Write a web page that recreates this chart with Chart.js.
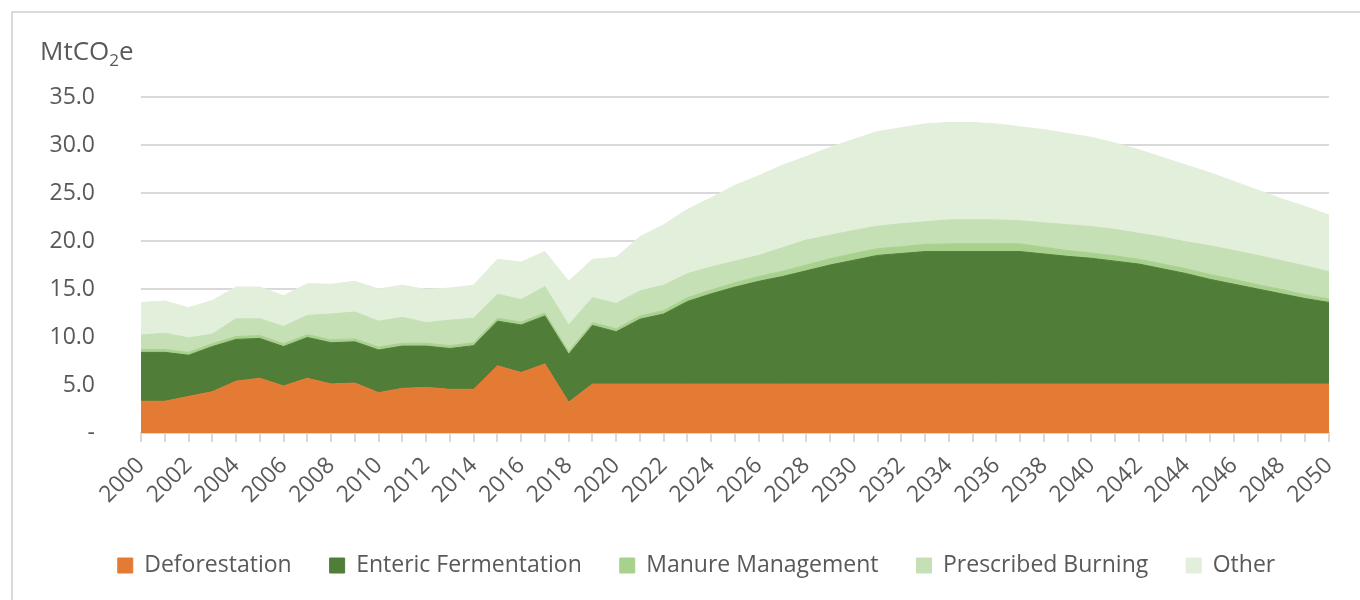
<!DOCTYPE html>
<html>
<head>
<meta charset="utf-8">
<script src="https://cdn.jsdelivr.net/npm/chart.js@4"></script>
<style>
  html, body { margin: 0; padding: 0; background: #fff; overflow: hidden; }
  #wrap { position: relative; width: 1360px; height: 600px; }
  #frame { position: absolute; left: 11px; top: 11px; width: 1400px; height: 700px; border: 2px solid #d9d9d9; }
  #emissions-chart { position: absolute; left: 0; top: 0; }
</style>
</head>
<body>
<div id="wrap">
  <div id="frame"></div>
  <canvas id="emissions-chart" width="1360" height="600"></canvas>
</div>
<script>
const years = [];
for (let y = 2000; y <= 2050; y++) years.push(String(y));

const deforestation = [3.3, 3.3, 3.8, 4.3, 5.4, 5.7, 4.9, 5.7, 5.1, 5.2,
    4.2, 4.65, 4.75, 4.55, 4.55, 7.0, 6.3, 7.2, 3.2, 5.1,
    5.1, 5.1, 5.1, 5.1, 5.1, 5.1, 5.1, 5.1, 5.1, 5.1,
    5.1, 5.1, 5.1, 5.1, 5.1, 5.1, 5.1, 5.1, 5.1, 5.1,
    5.1, 5.1, 5.1, 5.1, 5.1, 5.1, 5.1, 5.1, 5.1, 5.1, 5.1];
const entericFermentation = [5.1, 5.1, 4.3, 4.7, 4.35, 4.15, 4.1, 4.25, 4.3, 4.3,
    4.45, 4.4, 4.3, 4.25, 4.55, 4.65, 4.95, 5.0, 5.0, 6.1,
    5.45, 6.75, 7.3, 8.6, 9.4, 10.1, 10.7, 11.2, 11.8, 12.4,
    12.9, 13.4, 13.6, 13.8, 13.8, 13.8, 13.8, 13.8, 13.55, 13.3,
    13.1, 12.8, 12.5, 12.0, 11.5, 10.9, 10.4, 9.9, 9.4, 8.9, 8.5];
const manureManagement = [0.3, 0.3, 0.3, 0.3, 0.3, 0.3, 0.3, 0.3, 0.3, 0.3,
    0.3, 0.3, 0.3, 0.3, 0.3, 0.3, 0.3, 0.3, 0.3, 0.3,
    0.3, 0.35, 0.35, 0.4, 0.4, 0.45, 0.5, 0.55, 0.6, 0.65,
    0.7, 0.7, 0.7, 0.75, 0.8, 0.8, 0.8, 0.8, 0.7, 0.6,
    0.55, 0.55, 0.5, 0.5, 0.5, 0.5, 0.5, 0.45, 0.45, 0.4, 0.35];
const prescribedBurning = [1.5, 1.7, 1.5, 1.0, 1.85, 1.75, 1.8, 2.0, 2.7, 2.8,
    2.7, 2.7, 2.15, 2.65, 2.55, 2.5, 2.35, 2.75, 2.75, 2.6,
    2.65, 2.6, 2.65, 2.5, 2.4, 2.25, 2.2, 2.45, 2.6, 2.45,
    2.4, 2.35, 2.4, 2.35, 2.5, 2.5, 2.5, 2.4, 2.55, 2.7,
    2.75, 2.75, 2.7, 2.8, 2.8, 3.0, 3.0, 3.05, 3.0, 3.0, 2.85];
const other = [3.4, 3.35, 3.15, 3.5, 3.3, 3.3, 3.2, 3.3, 3.1, 3.2,
    3.35, 3.35, 3.45, 3.35, 3.45, 3.65, 3.9, 3.65, 4.55, 4.0,
    4.8, 5.65, 6.3, 6.7, 7.2, 7.9, 8.3, 8.6, 8.7, 9.15,
    9.5, 9.85, 10.0, 10.2, 10.15, 10.15, 10.0, 9.8, 9.7, 9.5,
    9.3, 9.0, 8.7, 8.3, 8.0, 7.6, 7.2, 6.8, 6.45, 6.2, 5.9];

const seriesNames = ['Deforestation', 'Enteric Fermentation', 'Manure Management', 'Prescribed Burning', 'Other'];
const seriesColors = ['#E47B35', '#507E39', '#A9D18E', '#C5E0B4', '#E2EFDA'];
const seriesValues = [deforestation, entericFermentation, manureManagement, prescribedBurning, other];

const textColor = '#595959';
const gridColor = '#d9d9d9';
const fontFamily = "'Open Sans', 'Noto Sans', sans-serif";

// unit label top left, drawn as text with a lowered small "2"
const unitLabel = {
    id: 'unitLabel',
    afterDraw(chart) {
        const ctx = chart.ctx;
        ctx.save();
        ctx.fillStyle = textColor;
        ctx.textBaseline = 'alphabetic';
        ctx.textAlign = 'left';
        let x = 40;
        const base = 60;
        ctx.font = '26px ' + fontFamily;
        ctx.fillText('MtCO', x, base);
        x += ctx.measureText('MtCO').width;
        ctx.font = '17px ' + fontFamily;
        ctx.fillText('2', x, base + 6);
        x += ctx.measureText('2').width;
        ctx.font = '26px ' + fontFamily;
        ctx.fillText('e', x, base);
        ctx.restore();
    }
};

// fixed legend height, and nudge it right like the original
const legendPlace = {
    id: 'legendPlace',
    beforeInit(chart) {
        const fit = chart.legend.fit;
        chart.legend.fit = function () {
            fit.bind(chart.legend)();
            this.height = 84;
        };
    },
    afterLayout(chart) {
        chart.legend.left += 12;
        chart.legend.right += 12;
    }
};

const datasets = seriesNames.map((name, i) => ({
    label: name,
    data: seriesValues[i],
    backgroundColor: seriesColors[i],
    borderColor: seriesColors[i],
    borderWidth: 1,
    pointRadius: 0,
    tension: 0,
    fill: i === 0 ? 'origin' : '-1',
}));

new Chart(document.getElementById('emissions-chart'), {
    type: 'line',
    data: { labels: years, datasets: datasets },
    options: {
        responsive: false,
        animation: false,
        layout: { padding: { left: 40, top: 97, right: 31, bottom: 0 } },
        plugins: {
            legend: {
                position: 'bottom',
                labels: {
                    boxWidth: 15,
                    boxHeight: 15,
                    padding: 38,
                    color: textColor,
                    font: { size: 23, family: fontFamily },
                },
            },
            tooltip: { enabled: false },
        },
        scales: {
            x: {
                afterFit: (scale) => { scale.height = 83; },
                grid: { drawOnChartArea: false, color: gridColor, lineWidth: 2, tickLength: 9 },
                border: { color: gridColor, width: 2 },
                ticks: {
                    autoSkip: false,
                    minRotation: 45,
                    maxRotation: 45,
                    color: textColor,
                    padding: 10,
                    font: { size: 23, family: fontFamily },
                    callback: function (value, index) {
                        return index % 2 === 0 ? this.getLabelForValue(value) : '';
                    },
                },
            },
            y: {
                stacked: true,
                min: 0,
                max: 35,
                afterFit: (scale) => { scale.width = 101; },
                grid: { color: gridColor, lineWidth: 2, drawTicks: false },
                border: { display: false },
                ticks: {
                    stepSize: 5,
                    padding: 46,
                    color: textColor,
                    font: { size: 23, family: fontFamily },
                    callback: (v) => v === 0 ? '-' : v.toFixed(1),
                },
            },
        },
    },
    plugins: [unitLabel, legendPlace],
});
</script>
</body>
</html>
